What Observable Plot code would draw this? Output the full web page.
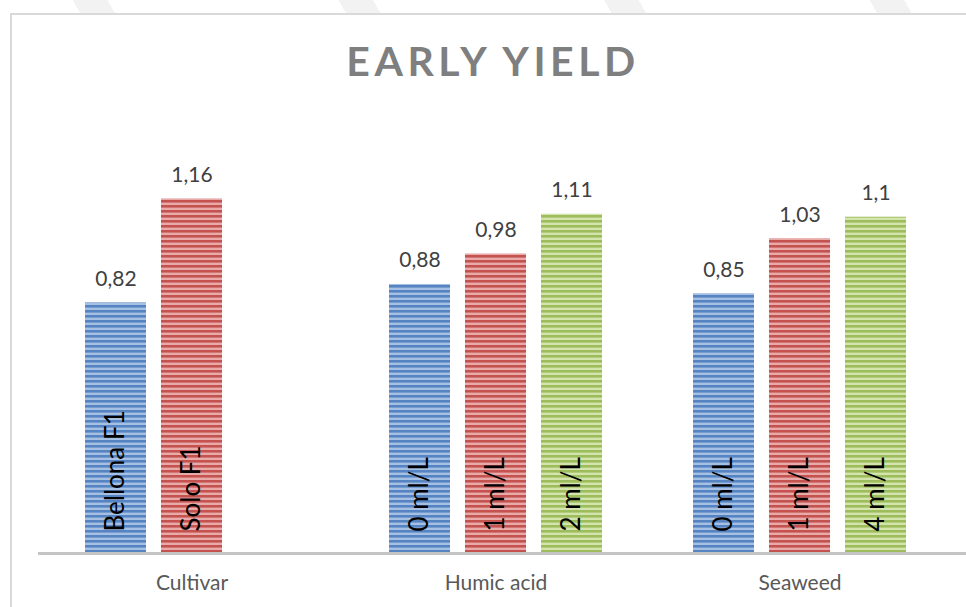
<!DOCTYPE html>
<html>
<head>
<meta charset="utf-8">
<script src="https://cdn.jsdelivr.net/npm/d3@7"></script>
<script src="https://cdn.jsdelivr.net/npm/@observablehq/plot@0.6"></script>
<style>
  html, body { margin: 0; padding: 0; background: #fff; }
  body { width: 966px; height: 607px; position: relative; overflow: hidden; font-family: Lato, "Open Sans", sans-serif; }
  #wm { position: absolute; left: 0; top: 0; width: 966px; height: 14px;
        background: repeating-linear-gradient(60deg, transparent 0 70px, #f2f2f2 70px 100px, transparent 100px 230px); }
  #frame { position: absolute; left: 10px; top: 13px; width: 970px; height: 610px; border: 2px solid #d9d9d9; box-sizing: border-box; background: #fff; }
  #title { position: absolute; left: 10px; width: 966px; top: 36px; text-align: center; font: bold 41px Lato, "Open Sans", sans-serif; letter-spacing: 4.5px; color: #7f7f7f; }
  #chart { position: absolute; left: 0; top: 0; }
</style>
</head>
<body>
<div id="wm"></div>
<div id="frame"></div>
<div id="title">EARLY YIELD</div>
<div id="chart"></div>
<script>
// ---- data ----
const groups = ["Cultivar", "Humic acid", "Seaweed"];
const groupKeys = ["C", "H", "S"];
const seriesLabels = [
  ["Bellona F1", "Solo F1"],
  ["0 ml/L", "1 ml/L", "2 ml/L"],
  ["0 ml/L", "1 ml/L", "4 ml/L"]
];
const seriesValues = [
  [0.82, 1.16],
  [0.88, 0.98, 1.11],
  [0.85, 1.03, 1.1]
];
const stripeColors = ["blue", "red", "green"];

// table built from the arrays
const rows = [];
groups.forEach((g, gi) => {
  seriesValues[gi].forEach((v, si) => {
    rows.push({group: g, key: groupKeys[gi] + si, s: si, label: seriesLabels[gi][si], value: v});
  });
});
// slot domain: 3 slots per group with a spacer between groups
const xDomain = ["C0","C1","C2","g1","H0","H1","H2","g2","S0","S1","S2"];
const tickKeys = ["C1","H1","S1"];
const tickName = {C1: groups[0], H1: groups[1], S1: groups[2]};

const fmt = v => String(v).replace(".", ",");
const font = "Lato, 'Open Sans', sans-serif";

const bars = stripeColors.map((c, si) =>
  Plot.barY(rows.filter(d => d.s === si), {x: "key", y: "value", fill: `url(#stripe-${c})`})
);

const plot = Plot.plot({
  width: 966,
  height: 607,
  marginLeft: 38,
  marginRight: 13,
  marginTop: 125,
  marginBottom: 54,
  style: {fontFamily: font, background: "transparent"},
  x: {domain: xDomain, paddingInner: 0.2, paddingOuter: 0.6, label: null},
  y: {domain: [0, 1.4], axis: null},
  marks: [
    ...bars,
    Plot.ruleY([0], {stroke: "#c4c4c4", strokeWidth: 3, insetRight: -13}),
    Plot.axisX({ticks: tickKeys, tickFormat: k => tickName[k], tickSize: 0, tickPadding: 22, fontSize: 21, fill: "#595959", label: null}),
    Plot.text(rows, {x: "key", y: "value", text: d => fmt(d.value), lineAnchor: "bottom", dy: -17, fontSize: 21, fill: "#404040"}),
    Plot.text(rows, {x: "key", y: 0, text: "label", rotate: -90, textAnchor: "start", dy: -22, fontSize: 26, fill: "#000"})
  ]
});

const svg = d3.select(plot);
const defs = svg.insert("defs", ":first-child");
const palette = {
  blue: ["#a6c0e4", "#5683c2"],
  red: ["#e8abaa", "#c4524f"],
  green: ["#d3e4ad", "#9dbd5c"]
};
for (const [name, [light, dark]] of Object.entries(palette)) {
  const p = defs.append("pattern").attr("id", `stripe-${name}`).attr("patternUnits", "userSpaceOnUse")
    .attr("width", 10).attr("height", 5);
  p.append("rect").attr("width", 10).attr("height", 5).attr("fill", light);
  p.append("rect").attr("y", 0).attr("width", 10).attr("height", 2.6).attr("fill", dark);
}
document.getElementById("chart").appendChild(plot);
</script>
</body>
</html>
